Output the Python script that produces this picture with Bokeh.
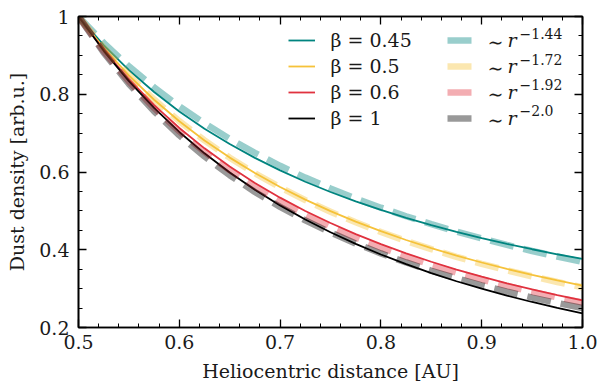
from bokeh.plotting import figure
from bokeh.models import Range1d, FixedTicker, LinearAxis, Legend, LegendItem, Label
from bokeh.embed import file_html
from bokeh.resources import INLINE

# ---------------- data ----------------
r_au = [0.500, 0.525, 0.550, 0.575, 0.600, 0.625, 0.650, 0.675, 0.700, 0.725,
        0.750, 0.775, 0.800, 0.825, 0.850, 0.875, 0.900, 0.925, 0.950, 0.975, 1.000]

beta_045 = [1.0, 0.9264, 0.8621, 0.8057, 0.7558, 0.7115, 0.6719, 0.6363, 0.6042, 0.5750,
            0.5486, 0.5244, 0.5024, 0.4820, 0.4633, 0.4460, 0.4300, 0.4152, 0.4013, 0.3884, 0.3763]
beta_05 = [1.0, 0.9192, 0.8483, 0.7859, 0.7305, 0.6812, 0.6370, 0.5973, 0.5615, 0.5289,
           0.4994, 0.4724, 0.4477, 0.4251, 0.4043, 0.3850, 0.3672, 0.3506, 0.3354, 0.3210, 0.3078]
beta_06 = [1.0, 0.9140, 0.8386, 0.7722, 0.7133, 0.6609, 0.6140, 0.5719, 0.5340, 0.4998,
           0.4687, 0.4403, 0.4145, 0.3908, 0.3691, 0.3491, 0.3308, 0.3137, 0.2980, 0.2834, 0.2698]
beta_1 = [1.0, 0.9117, 0.8338, 0.7647, 0.7030, 0.6480, 0.5986, 0.5542, 0.5141, 0.4779,
          0.4450, 0.4151, 0.3878, 0.3628, 0.3400, 0.3190, 0.2998, 0.2820, 0.2656, 0.2505, 0.2365]

pow_144 = [1.0, 0.9322, 0.8718, 0.8177, 0.7691, 0.7252, 0.6854, 0.6491, 0.6160, 0.5856,
           0.5577, 0.5320, 0.5082, 0.4862, 0.4658, 0.4467, 0.4289, 0.4124, 0.3968, 0.3823, 0.3686]
pow_172 = [1.0, 0.9195, 0.8488, 0.7863, 0.7308, 0.6813, 0.6368, 0.5968, 0.5606, 0.5277,
           0.4979, 0.4706, 0.4456, 0.4226, 0.4015, 0.3819, 0.3639, 0.3471, 0.3316, 0.3170, 0.3036]
pow_192 = [1.0, 0.9106, 0.8328, 0.7647, 0.7047, 0.6515, 0.6043, 0.5620, 0.5241, 0.4900,
           0.4591, 0.4311, 0.4056, 0.3823, 0.3610, 0.3414, 0.3235, 0.3069, 0.2916, 0.2774, 0.2642]
pow_200 = [1.0, 0.9070, 0.8264, 0.7561, 0.6944, 0.6400, 0.5917, 0.5487, 0.5102, 0.4756,
           0.4444, 0.4162, 0.3906, 0.3673, 0.3460, 0.3265, 0.3086, 0.2922, 0.2770, 0.2630, 0.2500]

beta_labels = ["β = 0.45", "β = 0.5", "β = 0.6", "β = 1"]
pow_exponents = ["−1.44", "−1.72", "−1.92", "−2.0"]

x_ticks = [0.5, 0.6, 0.7, 0.8, 0.9, 1.0]
x_tick_labels = ["0.5", "0.6", "0.7", "0.8", "0.9", "1.0"]
x_minor = [0.52, 0.54, 0.56, 0.58, 0.62, 0.64, 0.66, 0.68, 0.72, 0.74, 0.76, 0.78,
           0.82, 0.84, 0.86, 0.88, 0.92, 0.94, 0.96, 0.98]
y_ticks = [0.2, 0.4, 0.6, 0.8, 1.0]
y_tick_labels = ["0.2", "0.4", "0.6", "0.8", "1"]
y_minor = [0.25, 0.3, 0.35, 0.45, 0.5, 0.55, 0.65, 0.7, 0.75, 0.85, 0.9, 0.95]

colors = ["#00847f", "#f6c23a", "#e0323f", "#000000"]

FONT = "DejaVu Serif"
TXT = "#1a1a1a"

p = figure(width=598, height=387, output_backend="svg", toolbar_location=None,
           x_range=Range1d(0.5, 1.0), y_range=Range1d(0.2, 1.0),
           min_border_left=78, min_border_right=16, min_border_top=16, min_border_bottom=60,
           x_axis_label="Heliocentric distance [AU]", y_axis_label="Dust density [arb.u.]")
p.xgrid.visible = False
p.ygrid.visible = False
p.outline_line_color = "black"
p.outline_line_width = 1.6
p.background_fill_color = "white"
p.border_fill_color = "white"

solid = []
for ys, c in zip([beta_045, beta_05, beta_06, beta_1], colors):
    solid.append(p.line(r_au, ys, line_color=c, line_width=1.8))
dashed = []
for ys, c in zip([pow_144, pow_172, pow_192, pow_200], colors):
    dashed.append(p.line(r_au, ys, line_color=c, line_alpha=0.4, line_width=6.5,
                         line_dash="24 10"))

def style_axis(ax, ticks, minor, labels, show_labels):
    ax.ticker = FixedTicker(ticks=ticks, minor_ticks=minor)
    ax.major_label_overrides = dict(zip(ticks, labels))
    ax.axis_line_width = 1.6
    ax.major_tick_in = 8
    ax.major_tick_out = 0
    ax.minor_tick_in = 4
    ax.minor_tick_out = 0
    ax.major_tick_line_width = 1.3
    ax.minor_tick_line_width = 1.0
    ax.major_label_text_font = FONT
    ax.major_label_text_color = TXT
    if show_labels:
        ax.major_label_text_font_size = "19px"
        ax.axis_label_text_font = FONT
        ax.axis_label_text_font_size = "19px"
        ax.axis_label_text_font_style = "normal"
        ax.axis_label_text_color = TXT
    else:
        ax.major_label_text_font_size = "0px"
        ax.major_label_standoff = 0

style_axis(p.xaxis[0], x_ticks, x_minor, x_tick_labels, True)
style_axis(p.yaxis[0], y_ticks, y_minor, y_tick_labels, True)
p.xaxis[0].major_label_standoff = 7
p.xaxis[0].axis_label_standoff = 8
p.yaxis[0].major_label_standoff = 9
p.yaxis[0].axis_label_standoff = 8

top_ax = LinearAxis()
style_axis(top_ax, x_ticks, x_minor, [""] * len(x_ticks), False)
p.add_layout(top_ax, "above")
right_ax = LinearAxis()
style_axis(right_ax, y_ticks, y_minor, [""] * len(y_ticks), False)
p.add_layout(right_ax, "right")

# legend swatches (two columns)
def make_legend(renderers, loc):
    lg = Legend(items=[LegendItem(label=" ", renderers=[r]) for r in renderers],
                location=loc, orientation="vertical", padding=0, margin=0, spacing=6,
                glyph_width=27, glyph_height=20, label_height=20, label_width=1,
                label_standoff=0, label_text_font_size="1px",
                border_line_alpha=0, background_fill_alpha=0)
    p.add_layout(lg, "center")

make_legend(solid, (210, 199.5))
make_legend(dashed, (369, 199.5))

row_y = [287.5, 261.5, 235.7, 209.8]
for lab, y in zip(beta_labels, row_y):
    p.add_layout(Label(x=252, y=y, x_units="screen", y_units="screen", text=lab,
                       text_font=FONT, text_font_size="19px", text_baseline="middle",
                       text_color=TXT))
for ex, y in zip(pow_exponents, row_y):
    p.add_layout(Label(x=409, y=y - 2, x_units="screen", y_units="screen", text="∼",
                       text_font=FONT, text_font_size="19px", text_baseline="middle",
                       text_color=TXT))
    p.add_layout(Label(x=429, y=y, x_units="screen", y_units="screen", text="r",
                       text_font=FONT, text_font_size="19px", text_baseline="middle",
                       text_font_style="italic", text_color=TXT))
    p.add_layout(Label(x=441, y=y + 7, x_units="screen", y_units="screen", text=ex,
                       text_font=FONT, text_font_size="14px", text_baseline="middle",
                       text_color=TXT))

open("out.html", "w").write(file_html(p, INLINE))
